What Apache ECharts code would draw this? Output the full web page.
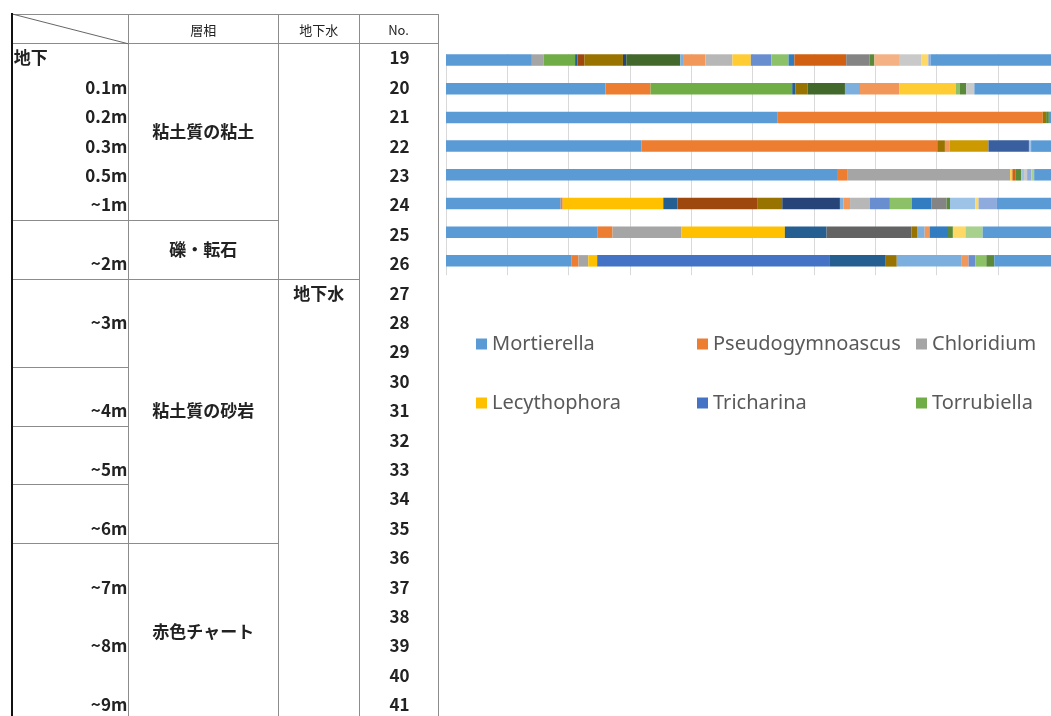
<!DOCTYPE html>
<html>
<head>
<meta charset="utf-8">
<script src="https://cdn.jsdelivr.net/npm/echarts@6/dist/echarts.min.js"></script>
<style>
html,body{margin:0;padding:0;background:#ffffff;}
#chart{width:1051px;height:716px;}
</style>
</head>
<body>
<div id="chart"></div>
<script>
// ---------------- table data ----------------
const headerLabels = ['層相', '地下水', 'No.'];
const sampleNos = ['19','20','21','22','23','24','25','26','27','28','29','30','31','32','33','34','35','36','37','38','39','40','41'];
const depthLabels = ['地下','0.1m','0.2m','0.3m','0.5m','~1m','','~2m','','~3m','','','~4m','','~5m','','~6m','','~7m','','~8m','','~9m'];
const depthCellLastRow = [5, 7, 10, 12, 14, 16, 22];
const faciesNames = ['粘土質の粘土', '礫・転石', '粘土質の砂岩', '赤色チャート'];
const faciesLastRow = [5, 7, 16, 22];
const groundwaterNames = ['', '地下水'];
const groundwaterLastRow = [7, 22];

// ---------------- chart data (% of reads, samples 19–26) ----------------
const barSamples = ['19','20','21','22','23','24','25','26'];
const legendNames = ['Mortierella','Pseudogymnoascus','Chloridium','Lecythophora','Tricharina','Torrubiella'];
const mortierella      = [14.0, 26.0, 54.0, 31.9, 63.9, 18.7, 24.65, 20.5];
const pseudogymnoascus = [0, 7.35, 43.3, 48.2, 1.5, 0.33, 2.5, 1.1];
const chloridium       = [1.9, 0, 0, 0, 26.6, 0, 11.25, 1.6];
const lecythophora     = [0, 0, 0, 0, 0, 16.4, 16.85, 1.45];
const tricharina       = [0, 0, 0, 0, 0, 0, 0, 37.95];
const torrubiella      = [5.15, 23.1, 0, 0, 0, 0, 0, 0];
const genus07 = [0.4, 0.55, 0, 0, 0, 2.3, 6.8, 9.1];
const genus08 = [1.1, 0, 0, 0, 0, 13.1, 0, 0];
const genus09 = [0, 0, 0, 0, 0, 0, 13.85, 0];
const genus10 = [6.3, 1.95, 0.55, 1.25, 0, 4.0, 0.9, 1.8];
const genus11 = [0.55, 0, 0, 0, 0, 9.4, 0, 0];
const genus12 = [8.8, 6.1, 0, 0, 0, 0, 0, 0];
const genus13 = [0.45, 2.45, 0, 0, 0, 0.55, 1.25, 10.6];
const genus14 = [3.65, 6.4, 0, 0.8, 0, 1.1, 0.8, 1.1];
const genus15 = [4.4, 0, 0, 0, 0, 3.25, 0, 0];
const genus16 = [3.0, 9.2, 0, 0, 0.35, 0, 0, 0];
const genus17 = [3.35, 0, 0, 0, 0, 3.25, 0, 1.1];
const genus18 = [2.8, 0.7, 0, 0, 0, 3.55, 0, 1.8];
const genus19 = [0.95, 0, 0, 0, 0, 3.25, 3.0, 0];
const genus20 = [8.45, 0, 0, 0, 0.55, 0, 0, 0];
const genus21 = [3.8, 0, 0, 0, 0, 2.45, 0, 0];
const genus22 = [0, 0, 0, 6.3, 0, 0, 0, 0];
const genus23 = [0, 0, 0, 6.6, 0, 0, 0, 0];
const genus24 = [0.8, 1.0, 0.45, 0, 0.9, 0.55, 0.8, 1.3];
const genus25 = [0, 0, 0, 0.35, 0.45, 4.1, 0, 0];
const genus26 = [4.15, 0, 0, 0, 0, 0, 0, 0];
const genus27 = [3.55, 1.35, 0, 0, 0.5, 0, 0, 0];
const genus28 = [1.1, 0, 0, 0, 0, 0.55, 2.05, 0];
const genus29 = [0.35, 0, 0, 0, 0.7, 3.0, 0, 0];
const genus30 = [0, 0, 0, 0, 0.45, 0, 2.8, 0];
const others  = [21.0, 13.85, 1.7, 4.6, 4.1, 10.2, 12.5, 10.6];
const xTicks = [0, 10, 20, 30, 40, 50, 60, 70, 80, 90, 100];

const palette = ['#5B9BD5','#ED7D31','#A5A5A5','#FFC000','#4472C4','#70AD47',
  '#255E91','#9E480E','#636363','#997300','#264478','#43682B',
  '#7CAFDD','#F1975A','#B7B7B7','#FFCD33','#698ED0','#8CC168',
  '#327DC2','#D26012','#848484','#CC9A00','#3A5FA0','#5A8A39',
  '#9DC3E6','#F4B183','#C9C9C9','#FFD966','#8FAADC','#A9D18E','#5B9BD5'];

const allSeriesData = [mortierella, pseudogymnoascus, chloridium, lecythophora, tricharina, torrubiella,
  genus07, genus08, genus09, genus10, genus11, genus12, genus13, genus14, genus15, genus16, genus17, genus18,
  genus19, genus20, genus21, genus22, genus23, genus24, genus25, genus26, genus27, genus28, genus29, genus30, others];
const allSeriesNames = allSeriesData.map((d, i) => i < legendNames.length ? legendNames[i] :
  (i === allSeriesData.length - 1 ? 'Others' : 'Genus ' + (i + 1)));

// ---------------- table drawing (graphic) ----------------
const LINE = '#8C8C8C';
const TXT = '#222222';
const FONT_FAM = '"Noto Sans CJK JP", "Noto Sans", sans-serif';
const colX = [11.7, 128.3, 278.3, 359, 438];
const tableTop = 14, headerBottom = 43.3, rowH = 29.4, tableBottom = 716;
const rowCenter = k => headerBottom + rowH * (k + 0.5);
const rowBottom = k => headerBottom + rowH * (k + 1);
const crisp = v => Math.round(v) + 0.5;

const g = [];
function hline(x1, x2, y, color, w) {
  g.push({type: 'line', silent: true, shape: {x1: x1, y1: crisp(y), x2: x2, y2: crisp(y)},
    style: {stroke: color || LINE, lineWidth: w || 1}});
}
function vline(x, y1, y2, color, w) {
  g.push({type: 'line', silent: true, shape: {x1: crisp(x), y1: y1, x2: crisp(x), y2: y2},
    style: {stroke: color || LINE, lineWidth: w || 1}});
}
function text(str, x, y, align, font) {
  if (!str) return;
  g.push({type: 'text', silent: true, z: 5,
    style: {text: str, x: x, y: y, align: align, textAlign: align, verticalAlign: 'middle', textVerticalAlign: 'middle',
      font: font, fill: TXT}});
}
// frame
hline(colX[0], colX[4] + 1, tableTop);
hline(colX[0], colX[4] + 1, headerBottom);
for (let c = 1; c < colX.length; c++) vline(colX[c], tableTop, tableBottom);
g.push({type: 'line', silent: true, shape: {x1: colX[0] + 0.5, y1: tableTop, x2: colX[1], y2: headerBottom + 0.5},
  style: {stroke: '#666', lineWidth: 1}});
// header
const hdrFont = '13px ' + FONT_FAM;
for (let c = 0; c < headerLabels.length; c++) {
  text(headerLabels[c], (colX[c + 1] + colX[c + 2]) / 2, (tableTop + headerBottom) / 2 + 1, 'center', hdrFont);
}
const bodyFont = 'bold 17px ' + FONT_FAM;
// depth column
depthCellLastRow.forEach(r => { if (rowBottom(r) < tableBottom) hline(colX[0], colX[1], rowBottom(r)); });
depthLabels.forEach((lab, k) => {
  if (k === 0) text(lab, colX[0] + 2, rowCenter(k), 'left', bodyFont);
  else text(lab, colX[1] - 1, rowCenter(k), 'right', bodyFont);
});
// facies column
let start = 0;
faciesNames.forEach((name, i) => {
  const last = faciesLastRow[i];
  const yTop = headerBottom + rowH * start, yBot = rowBottom(last);
  if (yBot < tableBottom) hline(colX[1], colX[2], yBot);
  text(name, (colX[1] + colX[2]) / 2, (yTop + yBot) / 2, 'center', bodyFont);
  start = last + 1;
});
// groundwater column
start = 0;
groundwaterNames.forEach((name, i) => {
  const last = groundwaterLastRow[i];
  if (rowBottom(last) < tableBottom) hline(colX[2], colX[3], rowBottom(last));
  text(name, (colX[2] + colX[3]) / 2, rowCenter(start), 'center', bodyFont);
  start = last + 1;
});
// sample numbers
sampleNos.forEach((n, k) => text(n, (colX[3] + colX[4]) / 2 + 1, rowCenter(k), 'center', bodyFont));
// left thick border
g.push({type: 'line', silent: true, z: 6, shape: {x1: 12, y1: tableTop - 1, x2: 12, y2: tableBottom},
  style: {stroke: '#111', lineWidth: 2}});
// cover top of plot area (reference crops gridlines above first bar)
g.push({type: 'rect', silent: true, z: 1, shape: {x: 444, y: 38, width: 610, height: 16}, style: {fill: '#ffffff'}});

// ---------------- chart ----------------
const legendCols = [[0, 3], [1, 4], [2, 5]];
const legendLeft = [476, 697, 916];

const chart = echarts.init(document.getElementById('chart'), null, {renderer: 'canvas'});
chart.setOption({
  backgroundColor: '#ffffff',
  animation: false,
  grid: {left: 446, right: -8.3, top: 45.7, bottom: 440.8, containLabel: false, outerBoundsMode: 'none'},
  xAxis: {
    type: 'value', min: xTicks[0], max: xTicks[xTicks.length - 1], interval: xTicks[1] - xTicks[0],
    axisLine: {show: false}, axisTick: {show: false}, axisLabel: {show: false},
    splitLine: {show: true, lineStyle: {color: '#D9D9D9', width: 1}}
  },
  yAxis: {
    type: 'category', data: barSamples, inverse: true,
    axisLine: {show: false}, axisTick: {show: false}, axisLabel: {show: false}, splitLine: {show: false}
  },
  legend: legendCols.map((idx, i) => ({
    data: idx.map(j => legendNames[j]),
    orient: 'vertical', left: legendLeft[i], top: 332, padding: 0,
    itemWidth: 11, itemHeight: 11, itemGap: 35, icon: 'rect', selectedMode: false,
    textStyle: {fontSize: 20, color: '#595959', fontFamily: '"Noto Sans", sans-serif', lineHeight: 24}
  })),
  graphic: g,
  series: allSeriesData.map((d, i) => ({
    name: allSeriesNames[i], type: 'bar', stack: 'total', data: d, barWidth: 11.5,
    itemStyle: {color: palette[i]}, emphasis: {disabled: true}
  }))
});
</script>
</body>
</html>
